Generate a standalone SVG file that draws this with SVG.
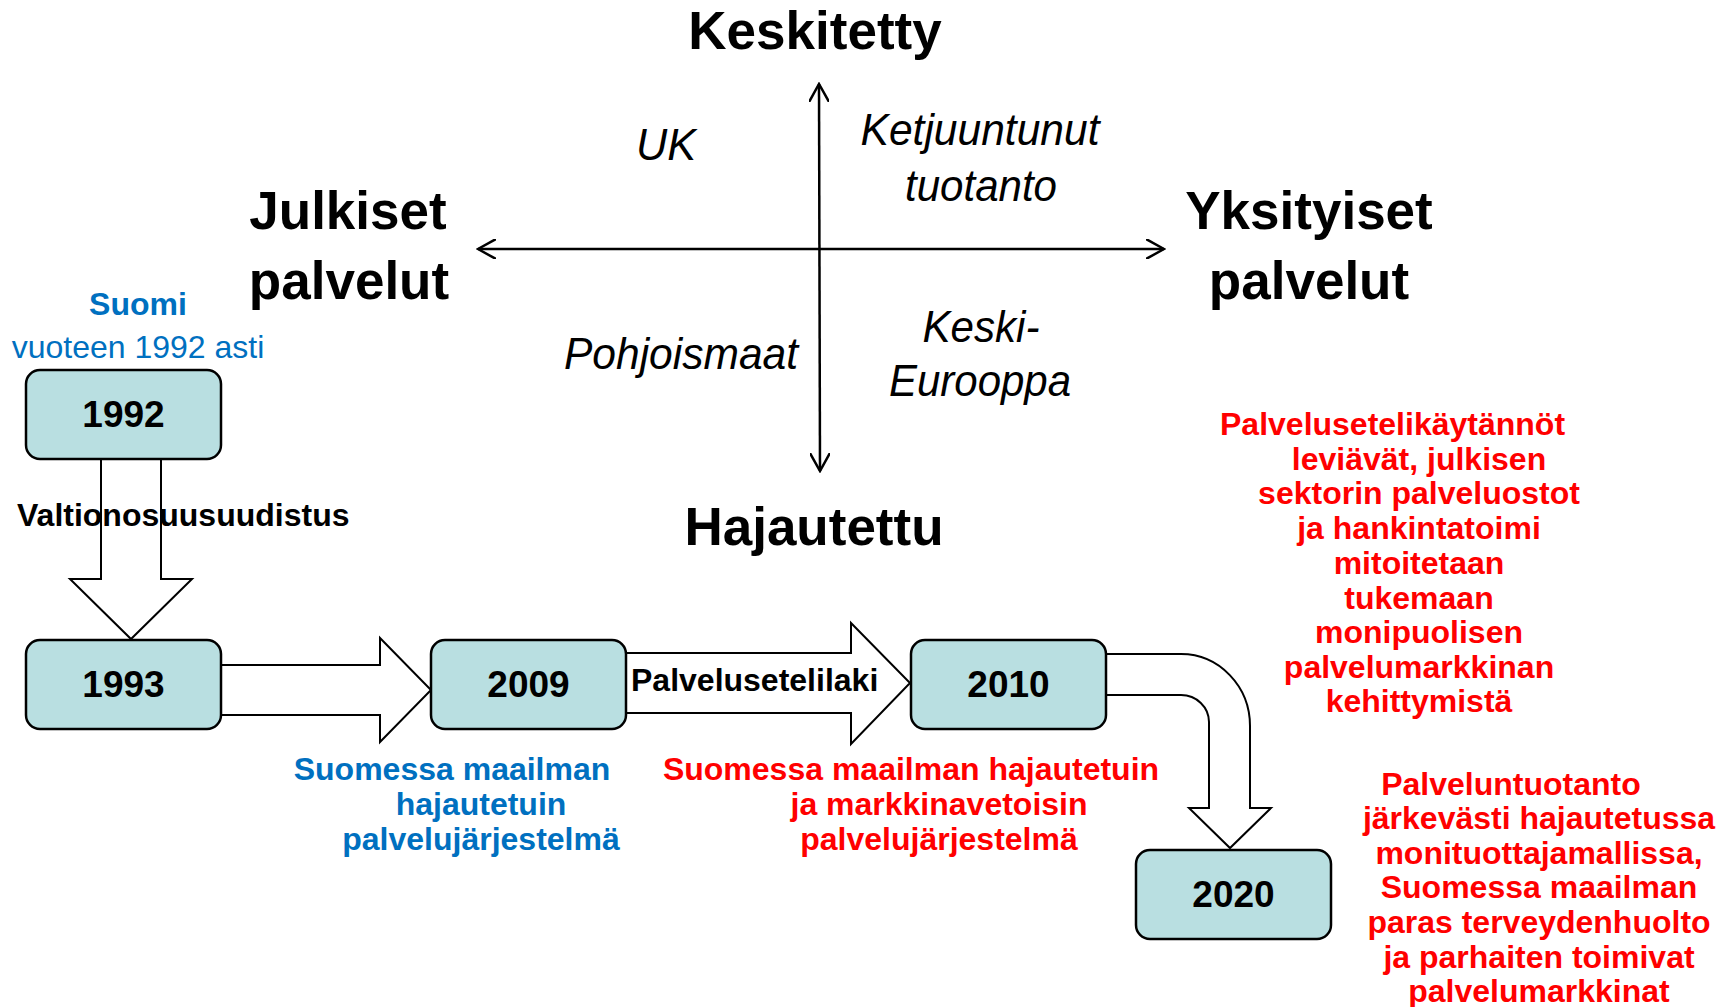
<svg xmlns="http://www.w3.org/2000/svg" width="1726" height="1007" viewBox="0 0 1726 1007">
<defs>
<style>
.t{font-family:"Liberation Sans",Arial,sans-serif;}
.title{font-size:53px;font-weight:bold;fill:#000;text-anchor:middle;}
.it{font-size:44px;font-style:italic;fill:#000;text-anchor:middle;}
.box{fill:#B9DFE1;stroke:#000;stroke-width:2.5;}
.yr{font-size:37px;font-weight:bold;fill:#000;text-anchor:middle;}
.blk{fill:#fff;stroke:#000;stroke-width:2;stroke-linejoin:miter;}
.axis{fill:none;stroke:#000;stroke-width:2.5;}
.red{font-size:32px;font-weight:bold;fill:#FF0000;text-anchor:middle;}
.blue{font-size:32px;font-weight:bold;fill:#0070C0;text-anchor:middle;}
.lbl{font-size:32px;font-weight:bold;fill:#000;}
</style>
<marker id="open" viewBox="0 0 20 20" refX="18" refY="10" markerWidth="20" markerHeight="20" markerUnits="userSpaceOnUse" orient="auto-start-reverse">
<path d="M0,0 L18,10 L0,20" fill="none" stroke="#000" stroke-width="2.5"/>
</marker>
</defs>
<rect width="1726" height="1007" fill="#fff"/>

<g id="connectors">
<line class="axis" x1="478" y1="249" x2="1164" y2="249" marker-start="url(#open)" marker-end="url(#open)"/>
<line class="axis" x1="819" y1="84" x2="820" y2="471" marker-start="url(#open)" marker-end="url(#open)"/>
<path class="blk" d="M101,459 V579 H70 L131,639 L192,579 H161 V459"/>
<path class="blk" d="M221,665 H380 V638 L431,690 L380,742 V715 H221"/>
<path class="blk" d="M626,653 H851 V623 L910,683 L851,744 V713 H626"/>
<path class="blk" d="M1106,654 H1181 A69,72 0 0 1 1250,726 V808 H1271 L1230,848 L1189,808 H1209 V722 A28,27 0 0 0 1181,695 H1106"/>
</g>

<g id="axis-labels" class="t">
<text class="title" x="815" y="49">Keskitetty</text>
<text class="title" x="814" y="545">Hajautettu</text>
<text class="title" x="348" y="229">Julkiset</text>
<text class="title" x="349" y="299">palvelut</text>
<text class="title" x="1309" y="229">Yksityiset</text>
<text class="title" x="1309" y="299">palvelut</text>
</g>

<g id="quadrants" class="t">
<text class="it" x="666" y="160" textLength="60" lengthAdjust="spacingAndGlyphs">UK</text>
<text class="it" x="980" y="145" textLength="239" lengthAdjust="spacingAndGlyphs">Ketjuuntunut</text>
<text class="it" x="981" y="201" textLength="152" lengthAdjust="spacingAndGlyphs">tuotanto</text>
<text class="it" x="681" y="369" textLength="234" lengthAdjust="spacingAndGlyphs">Pohjoismaat</text>
<text class="it" x="981" y="342" textLength="117" lengthAdjust="spacingAndGlyphs">Keski-</text>
<text class="it" x="980" y="396" textLength="182" lengthAdjust="spacingAndGlyphs">Eurooppa</text>
</g>

<g id="finland-label" class="t">
<text class="blue" x="138" y="315">Suomi</text>
<text class="blue" x="138" y="358" style="font-weight:normal">vuoteen 1992 asti</text>
</g>

<g id="node-1992" class="t">
<rect class="box" x="26" y="370" width="195" height="89" rx="14"/>
<text class="yr" x="123.5" y="427">1992</text>
</g>
<g id="node-1993" class="t">
<rect class="box" x="26" y="640" width="195" height="89" rx="14"/>
<text class="yr" x="123.5" y="697">1993</text>
</g>
<g id="node-2009" class="t">
<rect class="box" x="431" y="640" width="195" height="89" rx="14"/>
<text class="yr" x="528.5" y="697">2009</text>
</g>
<g id="node-2010" class="t">
<rect class="box" x="911" y="640" width="195" height="89" rx="14"/>
<text class="yr" x="1008.5" y="697">2010</text>
</g>
<g id="node-2020" class="t">
<rect class="box" x="1136" y="850" width="195" height="89" rx="14"/>
<text class="yr" x="1233.5" y="907">2020</text>
</g>

<g id="connector-labels" class="t">
<text class="lbl" x="17" y="526">Valtionosuusuudistus</text>
<text class="lbl" x="631" y="691">Palvelusetelilaki</text>
</g>

<g id="note-2009" class="t">
<text class="blue" x="452" y="780">Suomessa maailman</text>
<text class="blue" x="481" y="815">hajautetuin</text>
<text class="blue" x="481" y="850">palvelujärjestelmä</text>
</g>

<g id="note-2010" class="t">
<text class="red" x="911" y="780">Suomessa maailman hajautetuin</text>
<text class="red" x="939" y="815">ja markkinavetoisin</text>
<text class="red" x="939" y="850">palvelujärjestelmä</text>
</g>

<g id="note-voucher" class="t">
<text class="red" x="1220" y="435" style="text-anchor:start">Palvelusetelikäytännöt</text>
<text class="red" x="1419" y="470">leviävät, julkisen</text>
<text class="red" x="1419" y="504">sektorin palveluostot</text>
<text class="red" x="1419" y="539">ja hankintatoimi</text>
<text class="red" x="1419" y="574">mitoitetaan</text>
<text class="red" x="1419" y="609">tukemaan</text>
<text class="red" x="1419" y="643">monipuolisen</text>
<text class="red" x="1419" y="678">palvelumarkkinan</text>
<text class="red" x="1419" y="712">kehittymistä</text>
</g>

<g id="note-2020" class="t">
<text class="red" x="1511" y="795">Palveluntuotanto</text>
<text class="red" x="1539" y="829">järkevästi hajautetussa</text>
<text class="red" x="1539" y="864">monituottajamallissa,</text>
<text class="red" x="1539" y="898">Suomessa maailman</text>
<text class="red" x="1539" y="933">paras terveydenhuolto</text>
<text class="red" x="1539" y="968">ja parhaiten toimivat</text>
<text class="red" x="1539" y="1002">palvelumarkkinat</text>
</g>
</svg>
